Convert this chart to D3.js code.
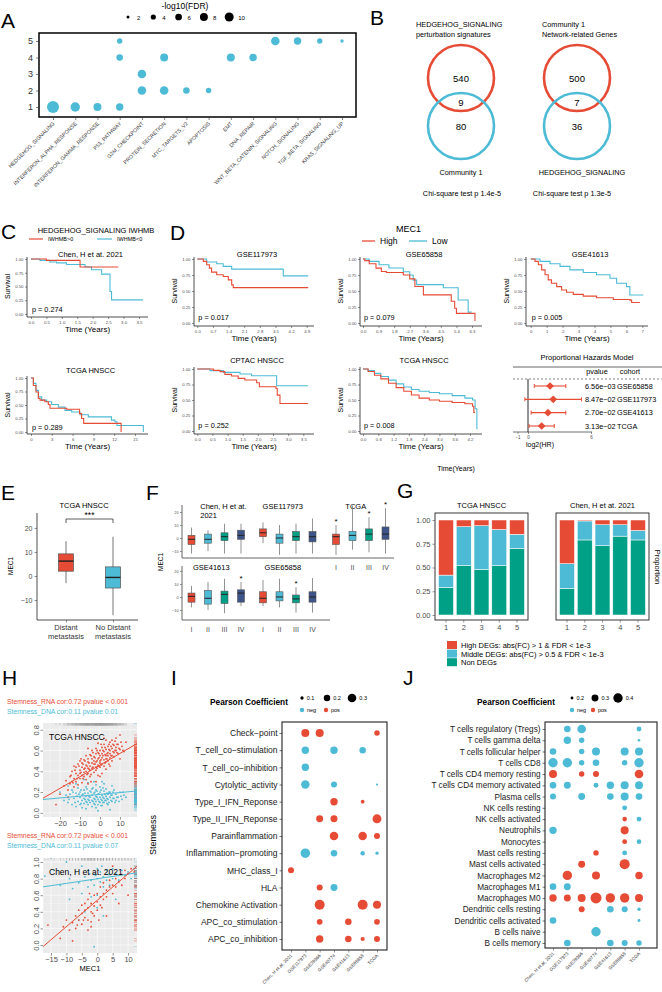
<!DOCTYPE html>
<html>
<head>
<meta charset="utf-8">
<script src="https://cdn.jsdelivr.net/npm/d3@7"></script>
<style>
  body { margin: 0; background: #fff; }
  svg { font-family: "Liberation Sans", Arial, sans-serif; }
</style>
</head>
<body>
<svg id="fig" width="662" height="992"></svg>
<script>
// ---------------- data ----------------
// A: hallmark enrichment per community
const aPathways = ["HEDGEHOG_SIGNALING", "INTERFERON_ALPHA_RESPONSE", "INTERFERON_GAMMA_RESPONSE", "P53_PATHWAY",
  "G2M_CHECKPOINT", "PROTEIN_SECRETION", "MYC_TARGETS_V2", "APOPTOSIS", "EMT", "DNA_REPAIR",
  "WNT_BETA_CATENIN_SIGNALING", "NOTCH_SIGNALING", "TGF_BETA_SIGNALING", "KRAS_SIGNALING_UP"];
const aCommunities = [1, 2, 3, 4, 5];
const aHits = [
  ["HEDGEHOG_SIGNALING", 1, 17], ["INTERFERON_ALPHA_RESPONSE", 1, 10.8], ["INTERFERON_GAMMA_RESPONSE", 1, 8.1],
  ["P53_PATHWAY", 1, 7.1], ["P53_PATHWAY", 4, 5.8], ["P53_PATHWAY", 5, 4.2],
  ["G2M_CHECKPOINT", 2, 9.2], ["G2M_CHECKPOINT", 3, 9.2], ["PROTEIN_SECRETION", 2, 9.2], ["PROTEIN_SECRETION", 4, 8.1],
  ["MYC_TARGETS_V2", 2, 5.8], ["APOPTOSIS", 2, 4.2], ["EMT", 4, 8.1], ["DNA_REPAIR", 4, 7.1],
  ["WNT_BETA_CATENIN_SIGNALING", 5, 9.2], ["NOTCH_SIGNALING", 5, 7.1], ["TGF_BETA_SIGNALING", 5, 4.2], ["KRAS_SIGNALING_UP", 5, 2.3]];
const aSizeBreaks = [2, 4, 6, 8, 10];

// B: venn diagrams
const vennTitles = [["HEDGEHOG_SIGNALING", "perturbation signatures"], ["Community 1", "Network-related Genes"]];
const vennCounts = [[540, 9, 80], [500, 7, 36]];
const vennBottom = ["Community 1", "HEDGEHOG_SIGNALING"];
const vennTests = ["Chi-square test p 1.4e-5", "Chi-square test p 1.3e-5"];

// C / D: Kaplan-Meier curves [time, survival]
const cChenPos = [[0, 1], [0.5, 0.975], [1.59, 0.855], [2.83, 0.855]];
const cChenNeg = [[0, 1], [0.29, 0.975], [0.61, 0.945], [0.83, 0.93], [1.15, 0.9], [1.75, 0.855], [1.96, 0.805], [2.29, 0.725], [2.56, 0.41], [2.61, 0.256], [3.63, 0.256]];
const cTcgaPos = [[0, 1], [0.34, 0.86], [0.72, 0.74], [1.06, 0.62], [1.3, 0.59], [2.0, 0.56], [2.5, 0.51], [2.74, 0.44], [5.15, 0.42], [7.0, 0.34], [7.3, 0.25], [7.6, 0.16], [13.0, 0.16], [13.0, 0]];
const cTcgaNeg = [[0, 1], [0.34, 0.9], [0.72, 0.77], [1.06, 0.65], [1.54, 0.59], [2.26, 0.56], [2.98, 0.51], [3.94, 0.46], [4.9, 0.4], [5.87, 0.37], [7.07, 0.32], [8.27, 0.28], [11.6, 0.22], [12.1, 0.19], [12.4, 0.12], [16.2, 0.12], [16.2, 0]];
const dGse117973High = [[0, 1], [0.27, 0.963], [0.42, 0.91], [0.54, 0.858], [0.64, 0.795], [0.87, 0.753], [1.16, 0.726], [1.39, 0.674], [1.54, 0.595], [1.61, 0.553], [4.97, 0.553]];
const dGse117973Low = [[0, 1], [0.42, 0.953], [0.87, 0.926], [1.16, 0.884], [1.54, 0.842], [3.85, 0.737], [4.97, 0.737]];
const dGse65858High = [[0, 1], [0.1, 0.975], [0.36, 0.926], [0.75, 0.858], [1.06, 0.805], [1.35, 0.79], [2.33, 0.75], [2.7, 0.69], [3.0, 0.57], [3.49, 0.44], [5.1, 0.34], [5.3, 0.23], [5.4, 0.15], [6.47, 0.15], [6.47, 0.03]];
const dGse65858Low = [[0, 1], [0.36, 0.963], [0.93, 0.91], [1.5, 0.86], [2.33, 0.8], [2.7, 0.75], [2.9, 0.67], [3.1, 0.6], [4.64, 0.55], [5.5, 0.36], [6.08, 0.17], [6.28, 0.17]];
const dGse41613High = [[0, 1], [0.27, 0.963], [0.48, 0.91], [0.69, 0.83], [0.9, 0.753], [1.1, 0.674], [1.3, 0.62], [1.63, 0.568], [1.94, 0.516], [2.25, 0.48], [2.67, 0.447], [3.3, 0.42], [4.13, 0.395], [5.18, 0.368], [6.22, 0.358], [6.33, 0.321], [6.85, 0.321]];
const dGse41613Low = [[0, 1], [0.58, 0.963], [1.21, 0.926], [1.84, 0.884], [2.46, 0.83], [3.3, 0.79], [4.13, 0.753], [4.97, 0.7], [5.39, 0.62], [6.01, 0.568], [6.22, 0.437], [7.06, 0.437]];
const dCptacHigh = [[0, 1], [0.53, 0.978], [0.75, 0.957], [0.91, 0.914], [1.13, 0.886], [1.35, 0.849], [1.57, 0.822], [1.96, 0.778], [2.05, 0.714], [2.6, 0.686], [2.64, 0.578], [2.73, 0.443], [3.66, 0.443]];
const dCptacLow = [[0, 1], [0.42, 0.973], [0.86, 0.946], [1.41, 0.919], [1.79, 0.892], [2.62, 0.73], [3.66, 0.73]];
const dTcgaHigh = [[0, 1], [0.2, 0.96], [0.45, 0.9], [0.7, 0.84], [1.0, 0.77], [1.3, 0.7], [1.6, 0.64], [1.9, 0.58], [2.2, 0.53], [2.6, 0.5], [3.0, 0.48], [3.5, 0.46], [4.0, 0.44], [4.3, 0.4], [4.35, 0.3], [4.4, 0.3]];
const dTcgaLow = [[0, 1], [0.2, 0.975], [0.45, 0.93], [0.7, 0.88], [1.0, 0.82], [1.3, 0.76], [1.6, 0.71], [1.9, 0.67], [2.2, 0.64], [2.6, 0.62], [3.0, 0.6], [3.5, 0.57], [4.0, 0.53], [4.3, 0.5], [4.4, 0.36], [4.47, 0.03]];
const ticksChen = [0, 0.5, 1, 1.5, 2, 2.5, 3, 3.5];
const ticksTcgaC = [0, 3, 6, 9, 12, 15];
const ticks117973 = [0, 0.7, 1.4, 2.1, 2.8, 3.5, 4.2, 4.9];
const ticks65858 = [0, 0.9, 1.8, 2.7, 3.6, 4.5, 5.4, 6.3];
const ticks41613 = [0, 1, 2, 3, 4, 5, 6, 7];
const ticksCptac = [0, 0.5, 1, 1.5, 2, 2.5, 3, 3.5];
const ticksTcgaD = [0, 0.6, 1.2, 1.8, 2.4, 3.0, 3.6, 4.2];
const survTicks = [0, 0.25, 0.5, 0.75, 1];

// D: proportional hazards model
const hrCohorts = ["GSE65858", "GSE117973", "GSE41613", "TCGA"];
const hrEst = [2.1, 2.4, 1.9, 1.3];
const hrLow = [0.6, -0.3, 0.3, 0.1];
const hrHigh = [3.6, 5.1, 3.6, 2.5];
const hrP = ["6.56e\u221203", "8.47e\u221202", "2.70e\u221202", "3.13e\u221202"];
const hrTicks = [-1, 0, 6];

// E: MEC1 by metastasis [min, q1, median, q3, max]
const eGroups = ["Distant metastasis", "No Distant metastasis"];
const eStats = [[-3, 2, 6.2, 9.2, 14.5], [-16.3, -5, -0.6, 3.8, 16.3]];
const eTicks = [-10, 0, 10, 20];

// F: MEC1 by stage, per cohort [min, q1, median, q3, max]
const fStages = ["I", "II", "III", "IV"];
const fCohorts = ["Chen, H et at. 2021", "GSE117973", "TCGA", "GSE41613", "GSE65858"];
const fChen = [[-12, -5, -1, 2, 8], [-10, -4, -1, 3, 6], [-12, -2, 1, 4, 11], [-12, -1, 2, 6, 11]];
const fGse117973 = [[-4, 1, 4, 7, 12], [-13, -4, 0, 3, 10], [-12, -2, 1, 5, 11], [-12, -3, 1, 5, 15]];
const fTcga = [[-13, -5, 1, 3, 10], [-9, -2, 2, 5, 25], [-11, -2, 3, 7, 16], [-12, -1, 3, 8.5, 23]];
const fGse41613 = [[-8, -4, 0.5, 3, 8.5], [-10, -5.5, -1, 5, 11.5], [-12.5, -5, 2, 4.5, 14], [-7, -4, 3, 5.5, 11.5]];
const fGse65858 = [[-7, -4.5, -1, 4, 13], [-8, -3, 0, 4, 14], [-12, -4.5, -1.5, 1.5, 7.5], [-12, -4, 0, 4, 14.5]];
const fStars = [["TCGA", 0], ["TCGA", 2], ["TCGA", 3], ["GSE41613", 3], ["GSE65858", 2]];
const fTicks = [-10, 0, 10, 20];

// G: DEG proportions per community
const gClusters = ["1", "2", "3", "4", "5"];
const gTcgaNon = [0.29, 0.52, 0.48, 0.52, 0.70];
const gTcgaMid = [0.13, 0.41, 0.46, 0.38, 0.15];
const gTcgaHigh = [0.58, 0.07, 0.06, 0.10, 0.15];
const gChenNon = [0.28, 0.79, 0.73, 0.83, 0.79];
const gChenMid = [0.26, 0.20, 0.22, 0.12, 0.10];
const gChenHigh = [0.46, 0.01, 0.05, 0.05, 0.11];
const gLegend = ["High DEGs: abs(FC) > 1 & FDR < 1e-3", "Middle DEGs: abs(FC) > 0.5 & FDR < 1e-3", "Non DEGs"];

// H: stemness vs MEC1 [MEC1, stemness]
const hTcgaRna = [[-20,0.18],[-18,0.26],[-17,0.31],[-16,0.22],[-15,0.28],[-15,0.35],[-14,0.3],[-14,0.4],[-13,0.25],[-13,0.33],
  [-12,0.38],[-12,0.44],[-12,0.3],[-11,0.36],[-11,0.47],[-11,0.27],[-10,0.41],[-10,0.33],[-10,0.5],[-10,0.38],
  [-9,0.44],[-9,0.36],[-9,0.29],[-9,0.48],[-8,0.42],[-8,0.51],[-8,0.35],[-8,0.39],[-7,0.46],[-7,0.4],[-7,0.55],[-7,0.32],
  [-6,0.43],[-6,0.49],[-6,0.38],[-6,0.52],[-5,0.45],[-5,0.41],[-5,0.56],[-5,0.35],[-4,0.48],[-4,0.52],[-4,0.43],[-4,0.6],
  [-3,0.47],[-3,0.39],[-3,0.54],[-3,0.5],[-2,0.44],[-2,0.57],[-2,0.49],[-2,0.62],[-2,0.41],[-1,0.52],[-1,0.46],[-1,0.58],[-1,0.36],
  [0,0.5],[0,0.55],[0,0.44],[0,0.6],[0,0.48],[1,0.53],[1,0.47],[1,0.63],[1,0.57],[2,0.51],[2,0.59],[2,0.45],[2,0.66],
  [3,0.55],[3,0.61],[3,0.49],[3,0.52],[4,0.58],[4,0.5],[4,0.64],[4,0.55],[5,0.6],[5,0.53],[5,0.68],[5,0.57],
  [6,0.62],[6,0.55],[6,0.5],[6,0.7],[7,0.58],[7,0.65],[7,0.54],[8,0.63],[8,0.6],[8,0.72],[9,0.57],[9,0.66],[10,0.61],[10,0.52],
  [11,0.64],[12,0.59],[13,0.68],[-22,0.08],[-16,0.15],[-13,0.45],[-6,0.62],[3,0.7],[10,0.75],[-2,0.3],[1,0.38],
  [-8.5,0.47],[-4.5,0.37],[-0.5,0.53],[2.5,0.56],[5.5,0.64],[7.5,0.6],[-6.5,0.45],[-1.5,0.43],[0.5,0.66],[4.5,0.47],
  [-14.5,0.36],[-13.5,0.29],[-12.5,0.41],[-11.5,0.33],[-10.5,0.45],[-9.5,0.39],[-8.5,0.33],[-7.5,0.43],[-7.5,0.5],[-6.5,0.37],
  [-5.5,0.48],[-5.5,0.42],[-4.5,0.55],[-3.5,0.44],[-3.5,0.58],[-2.5,0.47],[-2.5,0.53],[-1.5,0.5],[-1.5,0.6],[-0.5,0.45],
  [-0.5,0.57],[0.5,0.51],[0.5,0.46],[1.5,0.55],[1.5,0.6],[2.5,0.48],[2.5,0.63],[3.5,0.57],[3.5,0.52],[4.5,0.61],[4.5,0.66],
  [5.5,0.55],[6.5,0.59],[6.5,0.66],[7.5,0.69],[8.5,0.58],[8.5,0.66],[9.5,0.62],[10.5,0.68],[11.5,0.6],[-9.5,0.52],[-4.5,0.3],
  [0,0.35],[3,0.42],[-6,0.28],[2,0.72],[-1,0.67],[5,0.45]];
const hTcgaDna = [[-18,0.12],[-16,0.1],[-15,0.18],[-14,0.08],[-14,0.22],[-13,0.14],[-12,0.06],[-12,0.19],[-11,0.11],[-11,0.24],
  [-10,0.15],[-10,0.08],[-10,0.2],[-9,0.12],[-9,0.17],[-9,0.05],[-8,0.14],[-8,0.22],[-8,0.09],[-7,0.16],[-7,0.11],[-7,0.25],[-7,0.04],
  [-6,0.13],[-6,0.19],[-6,0.08],[-5,0.15],[-5,0.21],[-5,0.1],[-4,0.12],[-4,0.17],[-4,0.06],[-4,0.23],[-3,0.14],[-3,0.19],[-3,0.09],
  [-2,0.16],[-2,0.11],[-2,0.22],[-2,0.05],[-1,0.13],[-1,0.18],[-1,0.08],[0,0.15],[0,0.2],[0,0.1],[0,0.25],[1,0.12],[1,0.17],[1,0.07],
  [2,0.14],[2,0.21],[2,0.1],[3,0.16],[3,0.12],[3,0.23],[4,0.13],[4,0.18],[4,0.08],[5,0.15],[5,0.2],[6,0.11],[6,0.17],[7,0.14],[7,0.22],
  [8,0.12],[8,0.18],[9,0.15],[10,0.2],[11,0.13],[12,0.17],[-20,0.2],[-16,0.26],[-3,0.3],[2,0.28],[6,0.26],[-8,0.32],[0,0.86],
  [-1,0.02],[5,0.03],[-12,0.28],[-8.5,0.18],[-5.5,0.12],[-2.5,0.2],[0.5,0.13],[3.5,0.19],[6.5,0.14],[-11.5,0.16],[1.5,0.24],[4.5,0.1],
  [-17,0.17],[-15.5,0.13],[-13.5,0.2],[-12.5,0.1],[-10.5,0.18],[-9.5,0.09],[-9.5,0.22],[-7.5,0.13],[-7.5,0.19],[-6.5,0.1],
  [-6.5,0.23],[-5.5,0.16],[-4.5,0.2],[-3.5,0.11],[-3.5,0.24],[-2.5,0.13],[-2.5,0.08],[-1.5,0.15],[-1.5,0.21],[-0.5,0.11],
  [-0.5,0.18],[0.5,0.22],[0.5,0.07],[1.5,0.15],[1.5,0.1],[2.5,0.18],[2.5,0.12],[3.5,0.14],[3.5,0.09],[4.5,0.2],[5.5,0.12],
  [5.5,0.17],[6.5,0.2],[7.5,0.1],[8.5,0.15],[9.5,0.11],[10.5,0.16],[11.5,0.2],[13,0.15],[-2,0.27],[1,0.3],[-6,0.29]];
const hChenRna = [[-16,0.24],[-12,0.08],[-11,0.22],[-10,0.3],[-9,0.18],[-8,0.27],[-7,0.35],[-7,0.2],[-6,0.42],[-6,0.3],
  [-5,0.38],[-5,0.48],[-5,0.25],[-4,0.5],[-4,0.33],[-4,0.42],[-3,0.45],[-3,0.3],[-3,0.55],[-2,0.4],[-2,0.5],[-2,0.28],
  [-1,0.47],[-1,0.6],[-1,0.35],[0,0.52],[0,0.62],[0,0.42],[1,0.58],[1,0.48],[1,0.7],[2,0.62],[2,0.55],[2,0.75],[3,0.66],[3,0.58],
  [4,0.7],[4,0.78],[5,0.72],[5,0.62],[6,0.8],[6,0.7],[7,0.76],[8,0.85],[8,0.72],[9,0.8],[9,0.9],[10,0.86],[11,0.92],[12,0.88],
  [-2,0.22],[3,0.35],[7,0.5],[-8,0.05],[10,0.6],[5,0.95],[-3,0.18],[-6.5,0.24],[-4.5,0.3],[-1.5,0.38],[0.5,0.3],[1.5,0.45],[-2.5,0.62]];
const hChenDna = [[-17,0.83],[-14,0.9],[-12,0.72],[-10,1.0],[-9,0.8],[-8,0.68],[-7,0.88],[-6,0.75],[-5,0.95],[-5,0.62],[-4,0.82],
  [-3,0.7],[-3,0.9],[-2,0.78],[-2,0.58],[-1,0.85],[-1,0.72],[0,0.8],[0,0.92],[0,0.6],[1,0.76],[1,0.88],[2,0.82],[2,0.7],[3,0.9],[3,0.78],
  [4,0.85],[4,0.72],[5,0.8],[5,0.92],[6,0.86],[7,0.78],[8,0.9],[9,0.84],[10,0.88],[11,0.8],[-4,0.4],[-6,0.3],[0,0.45],[2,0.35],
  [-1,-0.02],[-9,0.55],[6,0.55],[-15,1.05],[12,0.92],[-0.5,0.84],[1.5,0.95],[3.5,0.85],[-2.5,0.86]];
const hFitTcga = [[0.46, 0.0112], [0.178, 0.00174]];   // [intercept, slope] RNA, DNA
const hFitChen = [[0.539, 0.0317], [0.798, 0.00556]];
const hStatsTcga = ["Stemness_RNA cor:0.72 pvalue < 0.001", "Stemness_DNA cor:0.11 pvalue 0.01"];
const hStatsChen = ["Stemness_RNA cor:0.72 pvalue < 0.001", "Stemness_DNA cor:0.11 pvalue 0.07"];

// I / J: Pearson coefficients [row, column, r]
const ijCohorts = ["Chen, H et at. 2021", "GSE117973", "GSE39366", "GSE40774", "GSE41613", "GSE65858", "TCGA"];
const iRows = ["Check\u2212point", "T_cell_co\u2212stimulation", "T_cell_co\u2212inhibition", "Cytolytic_activity", "Type_I_IFN_Reponse",
  "Type_II_IFN_Reponse", "Parainflammation", "Inflammation\u2212promoting", "MHC_class_I", "HLA", "Chemokine Activation",
  "APC_co_stimulation", "APC_co_inhibition"];
const iCors = [[0,1,0.27],[0,2,0.27],[0,6,0.16],[1,1,-0.24],[1,3,-0.24],[1,5,-0.2],[2,1,-0.24],[3,1,-0.29],[3,3,-0.18],[3,6,-0.08],
  [4,3,0.24],[4,5,0.11],[5,2,0.22],[5,3,0.22],[5,6,0.32],[6,3,0.3],[6,5,0.3],[6,6,0.18],[7,1,-0.35],[7,3,-0.2],[7,5,-0.13],[7,6,-0.1],
  [8,0,0.18],[9,2,0.18],[9,3,-0.22],[10,2,0.38],[10,5,0.38],[10,6,0.27],[11,2,0.17],[11,4,0.2],[11,6,0.17],
  [12,2,0.24],[12,4,0.2],[12,5,0.12],[12,6,0.18]];
const iSizeBreaks = [0.1, 0.2, 0.3];
const jRows = ["T cells regulatory (Tregs)", "T cells gamma delta", "T cells follicular helper", "T cells CD8", "T cells CD4 memory resting",
  "T cells CD4 memory activated", "Plasma cells", "NK cells resting", "NK cells activated", "Neutrophils", "Monocytes",
  "Mast cells resting", "Mast cells activated", "Macrophages M2", "Macrophages M1", "Macrophages M0", "Dendritic cells resting",
  "Dendritic cells activated", "B cells naive", "B cells memory"];
const jCors = [[0,1,-0.29],[0,2,-0.365],[0,6,-0.24],[1,1,-0.317],[1,2,-0.253],[1,6,-0.197],
  [2,0,-0.29],[2,2,-0.253],[2,3,-0.34],[2,5,-0.34],[2,6,-0.34],
  [3,0,-0.4],[3,1,-0.4],[3,2,-0.253],[3,3,-0.29],[3,5,-0.253],[3,6,-0.4],
  [4,0,0.34],[4,2,0.253],[4,3,0.27],[4,6,0.365],
  [5,0,-0.29],[5,1,-0.3],[5,3,-0.24],[5,4,-0.317],[5,5,-0.34],[5,6,-0.34],
  [6,0,-0.27],[6,2,-0.3],[6,4,-0.29],[6,5,-0.34],[6,6,-0.29],
  [7,5,-0.24],[8,5,0.233],[8,6,-0.24],[9,0,-0.317],[9,5,0.34],[10,5,0.24],[10,6,-0.233],
  [11,3,0.253],[11,5,-0.24],[12,2,0.3],[12,5,0.43],[13,1,0.4],[13,3,0.34],[13,6,0.317],[14,0,-0.29],[14,1,-0.3],
  [15,0,0.317],[15,1,0.3],[15,2,0.34],[15,3,0.48],[15,4,0.4],[15,5,0.4],[15,6,0.34],
  [16,2,0.27],[16,4,-0.29],[16,5,-0.27],[16,6,-0.209],[17,0,-0.29],[17,6,-0.2],[18,3,-0.4],
  [19,1,-0.29],[19,4,-0.29],[19,5,-0.27],[19,6,-0.253]];
const jSizeBreaks = [0.2, 0.3, 0.4];

// ---------------- drawing ----------------
const RED = "#E64B35", BLUE = "#4DBBD5", GREEN = "#00A087", NAVY = "#3C5488";
const FONT = "'Liberation Sans', Arial, sans-serif";
const svg = d3.select("#fig");
svg.append("rect").attr("width", 662).attr("height", 992).attr("fill", "#fff");

function label(g, x, y, s, size, o = {}) {
  const t = g.append("text").attr("x", x).attr("y", y).attr("font-size", size).text(s);
  if (o.anchor) t.attr("text-anchor", o.anchor);
  t.attr("fill", o.fill || "#000");
  if (o.weight) t.attr("font-weight", o.weight);
  if (o.rotate != null) t.attr("transform", `rotate(${o.rotate},${x},${y})`);
  return t;
}
function styleAxis(sel, size, color = "#4d4d4d") {
  sel.attr("font-family", FONT).attr("font-size", size);
  sel.selectAll("text").attr("fill", color);
  sel.selectAll("line").attr("stroke", color).attr("stroke-width", 0.6);
  sel.select(".domain").remove();
}

// panel letters
[["A", 1, 28], ["B", 370, 25], ["C", 1, 239], ["D", 170, 240], ["E", 1, 500], ["F", 146, 500],
 ["G", 397, 498], ["H", 2, 685], ["I", 171, 685], ["J", 403, 685]]
  .forEach(([s, x, y]) => label(svg, x, y, s, 21));

// ---------- A ----------
{
  const g = svg.append("g");
  const x = d3.scalePoint().domain(aPathways).range([53, 342]);
  const y = d3.scaleLinear().domain([1, 5]).range([107, 41]);
  const r = d3.scaleRadial().domain([1, 10]).range([0, 4.5]);
  g.append("rect").attr("x", 39).attr("y", 33).attr("width", 317).attr("height", 84)
    .attr("fill", "none").attr("stroke", "#000").attr("stroke-width", 1.5);
  const ay = g.append("g").attr("transform", "translate(39,0)")
    .call(d3.axisLeft(y).tickValues(aCommunities).tickSize(3).tickPadding(3).tickFormat(d3.format("d")));
  styleAxis(ay, 9, "#333");
  const ax = g.append("g").attr("transform", "translate(0,117)").call(d3.axisBottom(x).tickSize(3).tickFormat(""));
  styleAxis(ax, 5, "#333");
  aPathways.forEach(p => label(g, x(p) + 2, 124, p, 5.3, { anchor: "end", rotate: -45, fill: "#333" }));
  g.selectAll("circle.hit").data(aHits).join("circle").attr("class", "hit")
    .attr("cx", d => x(d[0])).attr("cy", d => y(d[1])).attr("r", d => r(d[2])).attr("fill", BLUE);
  label(g, 185, 9, "-log10(FDR)", 8.5, { anchor: "middle" });
  aSizeBreaks.forEach((b, i) => {
    const cx = 128 + i * 25.3;
    g.append("circle").attr("cx", cx).attr("cy", 17).attr("r", r(b)).attr("fill", "#000");
    label(g, cx + 9, 19.5, b, 6);
  });
}

// ---------- B ----------
{
  const g = svg.append("g");
  vennCounts.forEach((c, i) => {
    const cx = [461, 577][i];
    const tx = [416, 542][i];
    vennTitles[i].forEach((t, k) => label(g, tx, 27 + k * 9.5, t, 7.3));
    g.append("circle").attr("cx", cx).attr("cy", 78).attr("r", 33).attr("fill", "none").attr("stroke", RED).attr("stroke-width", 2.6);
    g.append("circle").attr("cx", cx).attr("cy", 126).attr("r", 33).attr("fill", "none").attr("stroke", BLUE).attr("stroke-width", 2.6);
    [78, 102, 126].forEach((yy, k) => label(g, cx, yy + 3.5, c[k], 9.5, { anchor: "middle" }));
    label(g, cx + [0, 5][i], 175, vennBottom[i], 7.3, { anchor: "middle" });
    label(g, cx + [1, -5][i], 196, vennTests[i], 7.3, { anchor: "middle" });
  });
}

// ---------- survival helper ----------
function survival(cfg, hi, lo) {
  const g = svg.append("g");
  const x = d3.scaleLinear().domain([0, cfg.ticks[cfg.ticks.length - 1]]).range([cfg.xs0, cfg.xs1]);
  const y = d3.scaleLinear().domain([0, 1]).range([cfg.yb, cfg.yt]);
  const ayG = g.append("g").attr("transform", `translate(${cfg.ax},0)`)
    .call(d3.axisLeft(y).tickValues(survTicks).tickFormat(d3.format(".2f")).tickSize(2).tickPadding(1.5));
  styleAxis(ayG, 4.3);
  const axG = g.append("g").attr("transform", `translate(0,${cfg.ay})`)
    .call(d3.axisBottom(x).tickValues(cfg.ticks).tickFormat(cfg.fmt).tickSize(2).tickPadding(1.5));
  styleAxis(axG, 4.3);
  g.append("path").attr("d", `M${cfg.ax},${cfg.yt - 2}V${cfg.ay}H${cfg.ax1}`)
    .attr("fill", "none").attr("stroke", "#222").attr("stroke-width", 0.8);
  const line = d3.line().x(d => x(d[0])).y(d => y(d[1])).curve(d3.curveStepAfter);
  [[lo, BLUE], [hi, RED]].forEach(([d, c]) =>
    g.append("path").attr("d", line(d)).attr("fill", "none").attr("stroke", c).attr("stroke-width", 1.1));
  const mid = (cfg.ax + cfg.ax1) / 2;
  label(g, mid + 3, cfg.titleY, cfg.title, 7.5, { anchor: "middle" });
  label(g, cfg.xs0 + 1, y(0.09) + 2.5, cfg.p, 7.3);
  label(g, mid, cfg.ay + 15, "Time (Years)", 8, { anchor: "middle" });
  label(g, cfg.ax - 17, (cfg.yt + cfg.yb) / 2, "Survival", 7, { anchor: "middle", rotate: -90 });
}
const f1 = d3.format(".1f"), f0 = d3.format("d");

// ---------- C ----------
label(svg, 96, 233, "HEDGEHOG_SIGNALING IWHMB", 7.5, { anchor: "middle" });
svg.append("line").attr("x1", 29).attr("x2", 43).attr("y1", 239).attr("y2", 239).attr("stroke", RED).attr("stroke-width", 1.2);
label(svg, 48, 241, "IWHMB>0", 5.5);
svg.append("line").attr("x1", 97).attr("x2", 112).attr("y1", 239).attr("y2", 239).attr("stroke", BLUE).attr("stroke-width", 1.2);
label(svg, 117, 241, "IWHMB<0", 5.5);
survival({ ax: 27, ax1: 148, xs0: 31, xs1: 139, yt: 259, yb: 314, ay: 317, ticks: ticksChen, fmt: f1,
  title: "Chen, H et at. 2021", titleY: 256.5, p: "p = 0.274" }, cChenPos, cChenNeg);
survival({ ax: 27, ax1: 148, xs0: 31, xs1: 135, yt: 378, yb: 432, ay: 434, ticks: ticksTcgaC, fmt: f0,
  title: "TCGA HNSCC", titleY: 373, p: "p = 0.289" }, cTcgaPos, cTcgaNeg);

// ---------- D ----------
label(svg, 408.5, 232, "MEC1", 9, { anchor: "middle" });
svg.append("line").attr("x1", 362).attr("x2", 375).attr("y1", 241).attr("y2", 241).attr("stroke", RED).attr("stroke-width", 1.3);
label(svg, 380, 244, "High", 8.5);
svg.append("line").attr("x1", 409).attr("x2", 427).attr("y1", 241).attr("y2", 241).attr("stroke", BLUE).attr("stroke-width", 1.3);
label(svg, 432, 244, "Low", 8.5);
survival({ ax: 194, ax1: 314, xs0: 197.3, xs1: 306.7, yt: 259, yb: 323, ay: 326, ticks: ticks117973, fmt: f1,
  title: "GSE117973", titleY: 256.5, p: "p = 0.017" }, dGse117973High, dGse117973Low);
survival({ ax: 360, ax1: 482, xs0: 363, xs1: 472, yt: 259, yb: 323, ay: 326, ticks: ticks65858, fmt: f1,
  title: "GSE65858", titleY: 256.5, p: "p = 0.079" }, dGse65858High, dGse65858Low);
survival({ ax: 526, ax1: 648, xs0: 530.7, xs1: 642.3, yt: 259, yb: 323, ay: 326, ticks: ticks41613, fmt: f0,
  title: "GSE41613", titleY: 256.5, p: "p = 0.005" }, dGse41613High, dGse41613Low);
survival({ ax: 194, ax1: 314, xs0: 197.3, xs1: 303.3, yt: 369, yb: 431, ay: 434, ticks: ticksCptac, fmt: f1,
  title: "CPTAC HNSCC", titleY: 363, p: "p = 0.252" }, dCptacHigh, dCptacLow);
survival({ ax: 360, ax1: 482, xs0: 363, xs1: 470, yt: 369, yb: 431, ay: 434, ticks: ticksTcgaD, fmt: f1,
  title: "TCGA HNSCC", titleY: 363, p: "p = 0.008" }, dTcgaHigh, dTcgaLow);

// forest plot
{
  const g = svg.append("g");
  const x = d3.scaleLinear().domain([-1, 6]).range([517.5, 591]);
  const y = d3.scalePoint().domain(hrCohorts).range([386, 426]);
  label(g, 587, 359.5, "Proportional Hazards Model", 7.5, { anchor: "middle" });
  g.append("line").attr("x1", 513).attr("x2", 662).attr("y1", 367).attr("y2", 367).attr("stroke", "#555").attr("stroke-width", 0.9);
  label(g, 597, 374, "pvalue", 7.3, { anchor: "middle" });
  label(g, 630, 374, "cohort", 7.3, { anchor: "middle" });
  g.append("line").attr("x1", 513).attr("x2", 662).attr("y1", 379).attr("y2", 379).attr("stroke", "#555")
    .attr("stroke-width", 0.7).attr("stroke-dasharray", "2,2");
  g.append("line").attr("x1", x(0)).attr("x2", x(0)).attr("y1", 379).attr("y2", 432).attr("stroke", "#888").attr("stroke-width", 1.8);
  const axG = g.append("g").attr("transform", "translate(0,432)")
    .call(d3.axisBottom(x).tickValues(hrTicks).tickSize(2).tickPadding(1.5).tickFormat(d3.format("d")));
  styleAxis(axG, 4.5);
  g.append("line").attr("x1", 513).attr("x2", 592).attr("y1", 432).attr("y2", 432).attr("stroke", "#333").attr("stroke-width", 0.7);
  label(g, 540, 447, "log2(HR)", 7, { anchor: "middle" });
  hrCohorts.forEach((c, i) => {
    const yy = y(c);
    g.append("line").attr("x1", x(hrLow[i])).attr("x2", x(hrHigh[i])).attr("y1", yy).attr("y2", yy).attr("stroke", RED).attr("stroke-width", 1.1);
    [hrLow[i], hrHigh[i]].forEach(v => g.append("line").attr("x1", x(v)).attr("x2", x(v)).attr("y1", yy - 2).attr("y2", yy + 2).attr("stroke", RED).attr("stroke-width", 1));
    g.append("path").attr("d", d3.symbol(d3.symbolSquare, 30)()).attr("transform", `translate(${x(hrEst[i])},${yy}) rotate(45)`).attr("fill", RED);
    label(g, 585, yy + 2.6, hrP[i], 7.3);
    label(g, 617, yy + 2.6, c, 7.3);
  });
  label(svg, 456, 471, "Time(Years)", 7, { anchor: "middle" });
}

// ---------- E ----------
{
  const g = svg.append("g");
  const y = d3.scaleLinear().domain([-18.3, 26.2]).range([620, 513]);
  const x = d3.scalePoint().domain(eGroups).range([66, 113]);
  label(g, 84, 508, "TCGA HNSCC", 7.5, { anchor: "middle" });
  const ayG = g.append("g").attr("transform", "translate(37,0)").call(d3.axisLeft(y).tickValues(eTicks).tickSize(2.5).tickPadding(2));
  styleAxis(ayG, 7, "#4d4d4d");
  const axG = g.append("g").attr("transform", "translate(0,620)").call(d3.axisBottom(x).tickSize(2.5).tickFormat(""));
  styleAxis(axG, 7);
  g.append("path").attr("d", "M37,513V620H138").attr("fill", "none").attr("stroke", "#222").attr("stroke-width", 0.8);
  eGroups.forEach((grp, i) => {
    const s = eStats[i], cx = x(grp), w = 15;
    g.append("line").attr("x1", cx).attr("x2", cx).attr("y1", y(s[0])).attr("y2", y(s[4])).attr("stroke", "#666").attr("stroke-width", 0.9);
    g.append("rect").attr("x", cx - w / 2).attr("y", y(s[3])).attr("width", w).attr("height", y(s[1]) - y(s[3]))
      .attr("fill", i ? BLUE : RED).attr("stroke", "#555").attr("stroke-width", 0.7);
    g.append("line").attr("x1", cx - w / 2).attr("x2", cx + w / 2).attr("y1", y(s[2])).attr("y2", y(s[2])).attr("stroke", "#222").attr("stroke-width", 1.4);
    const words = grp.split(" ");
    const lines = words.length > 2 ? [words.slice(0, 2).join(" "), words[2]] : words;
    lines.forEach((t, k) => label(g, cx, 630 + k * 9, t, 7.5, { anchor: "middle", fill: "#333" }));
  });
  g.append("path").attr("d", `M${x(eGroups[0])},523V519H${x(eGroups[1])}V523`).attr("fill", "none").attr("stroke", "#333").attr("stroke-width", 0.8);
  label(g, 89.5, 517.5, "***", 8.5, { anchor: "middle" });
  label(g, 13, 566, "MEC1", 6.5, { anchor: "middle", rotate: -90 });
}

// ---------- F ----------
{
  const g = svg.append("g");
  const stageColor = d3.scaleOrdinal().domain(fStages).range([RED, BLUE, GREEN, NAVY]);
  const rows = [
    { y: d3.scaleLinear().domain([-15.4, 25.4]).range([558, 505]), top: 505, bot: 558, right: 394 },
    { y: d3.scaleLinear().domain([-17.7, 23.8]).range([620, 566]), top: 566, bot: 620, right: 330 }];
  const facets = [
    { name: fCohorts[0], stats: fChen, row: 0, x0: 183.25, ty: 509, tx2: "2021" },
    { name: fCohorts[1], stats: fGse117973, row: 0, x0: 254.75, ty: 509 },
    { name: fCohorts[2], stats: fTcga, row: 0, x0: 327.75, ty: 509, roman: true },
    { name: fCohorts[3], stats: fGse41613, row: 1, x0: 183.25, ty: 570, roman: true },
    { name: fCohorts[4], stats: fGse65858, row: 1, x0: 254.75, ty: 570, roman: true }];
  rows.forEach(r => {
    const ayG = g.append("g").attr("transform", "translate(182,0)").call(d3.axisLeft(r.y).tickValues(fTicks).tickSize(2).tickPadding(1.5));
    styleAxis(ayG, 3.8);
    g.append("path").attr("d", `M182,${r.top}V${r.bot}H${r.right}`).attr("fill", "none").attr("stroke", "#555").attr("stroke-width", 0.9);
  });
  facets.forEach(f => {
    const r = rows[f.row];
    const x = d3.scalePoint().domain(fStages).range([f.x0 + 8.25, f.x0 + 57.75]);
    if (f.tx2) {
      label(g, f.x0 + 17, f.ty, "Chen, H et at.", 7.5);
      label(g, f.x0 + 17, f.ty + 9, f.tx2, 7.5);
    } else {
      label(g, f.x0 + 28, f.ty, f.name, 7.5, { anchor: "middle" });
    }
    f.stats.forEach((s, i) => {
      const cx = x(fStages[i]), w = 7;
      g.append("line").attr("x1", cx).attr("x2", cx).attr("y1", r.y(s[0])).attr("y2", r.y(s[4])).attr("stroke", "#777").attr("stroke-width", 0.8);
      g.append("rect").attr("x", cx - w / 2).attr("y", r.y(s[3])).attr("width", w).attr("height", r.y(s[1]) - r.y(s[3]))
        .attr("fill", stageColor(fStages[i])).attr("stroke", "#555").attr("stroke-width", 0.6);
      g.append("line").attr("x1", cx - w / 2).attr("x2", cx + w / 2).attr("y1", r.y(s[2])).attr("y2", r.y(s[2])).attr("stroke", "#222").attr("stroke-width", 1);
    });
    fStars.filter(st => st[0] === f.name).forEach(st => {
      const s = f.stats[st[1]];
      label(g, x(fStages[st[1]]), r.y(s[4]) - 1, "*", 8, { anchor: "middle" });
    });
    if (f.roman) {
      fStages.forEach(st => label(g, x(st), r.bot + 12, st, 7, { anchor: "middle", fill: "#4d4d4d" }));
    }
  });
  label(g, 163, 562, "MEC1", 6.5, { anchor: "middle", rotate: -90 });
}

// ---------- G ----------
{
  const g = svg.append("g");
  const y = d3.scaleLinear().domain([0, 1]).range([615, 520]);
  const cats = ["non", "mid", "high"];
  const colors = { non: GREEN, mid: BLUE, high: RED };
  const panels = [
    { title: "TCGA HNSCC", x0: 435, x1: 528, non: gTcgaNon, mid: gTcgaMid, high: gTcgaHigh },
    { title: "Chen, H et at. 2021", x0: 556, x1: 649, non: gChenNon, mid: gChenMid, high: gChenHigh }];
  panels.forEach((p, pi) => {
    const x = d3.scaleBand().domain(gClusters).range([p.x0, p.x1]).paddingInner(0.16).paddingOuter(0.2);
    const rows = gClusters.map((c, i) => ({ c, non: p.non[i], mid: p.mid[i], high: p.high[i] }));
    const series = d3.stack().keys(cats)(rows);
    series.forEach(s => {
      g.selectAll(null).data(s).join("rect")
        .attr("x", d => x(d.data.c)).attr("width", x.bandwidth())
        .attr("y", d => y(d[1])).attr("height", d => y(d[0]) - y(d[1]))
        .attr("fill", colors[s.key]).attr("stroke", "#fff").attr("stroke-width", 0.5);
    });
    g.append("rect").attr("x", p.x0).attr("y", 513).attr("width", p.x1 - p.x0).attr("height", 107)
      .attr("fill", "none").attr("stroke", "#222").attr("stroke-width", 0.9);
    const axG = g.append("g").attr("transform", "translate(0,620)").call(d3.axisBottom(x).tickSize(2.5).tickPadding(2));
    styleAxis(axG, 7.5);
    label(g, (p.x0 + p.x1) / 2, 508, p.title, 7.5, { anchor: "middle" });
    if (pi === 0) {
      const ayG = g.append("g").attr("transform", `translate(${p.x0},0)`)
        .call(d3.axisLeft(y).tickValues([0, 0.25, 0.5, 0.75, 1]).tickFormat(d3.format(".2f")).tickSize(2.5).tickPadding(2));
      styleAxis(ayG, 7.5);
    }
  });
  label(g, 655, 567, "Proportion", 7.5, { anchor: "middle", rotate: 90 });
  [RED, BLUE, GREEN].forEach((c, i) => {
    g.append("rect").attr("x", 447).attr("y", 641 + i * 8.6).attr("width", 10).attr("height", 8).attr("fill", c);
    label(g, 461, 648 + i * 8.6, gLegend[i], 7.5);
  });
}

// ---------- H ----------
function scatterPanel(cfg, rna, dna, fits) {
  const g = svg.append("g");
  const x = d3.scaleLinear().domain(cfg.xd).range([43, 137]);
  const y = d3.scaleLinear().domain(cfg.yd).range([cfg.y1, cfg.y0]);
  g.append("rect").attr("x", 43).attr("y", cfg.y0).attr("width", 94).attr("height", cfg.y1 - cfg.y0).attr("fill", "#EBEBEB");
  const xt = cfg.xt, yt = cfg.yt;
  const xm = xt.slice(1).map((v, i) => (v + xt[i]) / 2).concat([xt[0] - (xt[1] - xt[0]) / 2, xt[xt.length - 1] + (xt[1] - xt[0]) / 2]);
  const ym = yt.slice(1).map((v, i) => (v + yt[i]) / 2).concat([yt[yt.length - 1] + (yt[1] - yt[0]) / 2]);
  xm.filter(v => v > cfg.xd[0] && v < cfg.xd[1]).forEach(v => g.append("line").attr("x1", x(v)).attr("x2", x(v)).attr("y1", cfg.y0).attr("y2", cfg.y1).attr("stroke", "#fff").attr("stroke-width", 0.3));
  ym.filter(v => v > cfg.yd[0] && v < cfg.yd[1]).forEach(v => g.append("line").attr("x1", 43).attr("x2", 137).attr("y1", y(v)).attr("y2", y(v)).attr("stroke", "#fff").attr("stroke-width", 0.3));
  xt.forEach(v => g.append("line").attr("x1", x(v)).attr("x2", x(v)).attr("y1", cfg.y0).attr("y2", cfg.y1).attr("stroke", "#fff").attr("stroke-width", 0.6));
  yt.forEach(v => g.append("line").attr("x1", 43).attr("x2", 137).attr("y1", y(v)).attr("y2", y(v)).attr("stroke", "#fff").attr("stroke-width", 0.6));
  const clipId = "clip" + cfg.id;
  g.append("clipPath").attr("id", clipId).append("rect").attr("x", 43).attr("y", cfg.y0).attr("width", 94).attr("height", cfg.y1 - cfg.y0);
  const inner = g.append("g").attr("clip-path", `url(#${clipId})`);
  [[dna, BLUE], [rna, RED]].forEach(([pts, c]) => {
    inner.selectAll(null).data(pts).join("circle").attr("cx", d => x(d[0])).attr("cy", d => y(d[1])).attr("r", 0.9).attr("fill", c);
    inner.selectAll(null).data(pts).join("line").attr("x1", 134).attr("x2", 137).attr("y1", d => y(d[1])).attr("y2", d => y(d[1]))
      .attr("stroke", c).attr("stroke-width", 0.5).attr("opacity", 0.8);
    inner.selectAll(null).data(pts).join("line").attr("y1", cfg.y0).attr("y2", cfg.y0 + 2.5).attr("x1", d => x(d[0])).attr("x2", d => x(d[0]))
      .attr("stroke", "#999").attr("stroke-width", 0.4).attr("opacity", 0.7);
  });
  [[fits[1], BLUE], [fits[0], RED]].forEach(([f, c]) => {
    inner.append("line").attr("x1", x(cfg.xd[0])).attr("x2", x(cfg.xd[1]))
      .attr("y1", y(f[0] + f[1] * cfg.xd[0])).attr("y2", y(f[0] + f[1] * cfg.xd[1])).attr("stroke", c).attr("stroke-width", 1);
  });
  const axG = g.append("g").attr("transform", `translate(0,${cfg.y1})`).call(d3.axisBottom(x).tickValues(xt).tickSize(2.5).tickPadding(1.5));
  styleAxis(axG, 7.5, "#4d4d4d");
  const ayG = g.append("g").attr("transform", "translate(43,0)").call(d3.axisLeft(y).tickValues(yt).tickSize(2.5).tickFormat(d3.format(".1f")));
  styleAxis(ayG, 7.5, "#4d4d4d");
  ayG.selectAll("text").attr("x", 0).attr("y", -4.5).attr("dy", 0).attr("text-anchor", "middle").attr("transform", "rotate(-90)");
  label(g, 49, cfg.y0 + 17, cfg.title, 8.5);
  cfg.stats.forEach((s, k) => label(svg, 7, cfg.statY + k * 10, s, 6.8, { fill: k ? BLUE : RED }));
}
scatterPanel({ id: "t", xd: [-28.5, 18.5], yd: [-0.04, 0.865], y0: 723, y1: 817, xt: [-20, -10, 0, 10], yt: [0, 0.2, 0.4, 0.6, 0.8],
  title: "TCGA HNSCC", stats: hStatsTcga, statY: 704 }, hTcgaRna, hTcgaDna, hFitTcga);
scatterPanel({ id: "c", xd: [-17.6, 12.9], yd: [-0.096, 1.048], y0: 858, y1: 953, xt: [-15, -10, -5, 0, 5, 10], yt: [0, 0.2, 0.4, 0.6, 0.8, 1.0],
  title: "Chen, H et at. 2021", stats: hStatsChen, statY: 838 }, hChenRna, hChenDna, hFitChen);
label(svg, 90, 971, "MEC1", 7.5, { anchor: "middle" });
label(svg, 156, 835, "Stemness", 9, { anchor: "middle", rotate: -90 });

// ---------- I / J ----------
function dotMatrix(cfg, rowsNames, cors, breaks) {
  const g = svg.append("g");
  const x = d3.scalePoint().domain(ijCohorts).range([cfg.cx0, cfg.cx1]);
  const y = d3.scalePoint().domain(rowsNames).range([cfg.ry0, cfg.ry1]);
  const r = d3.scaleRadial().domain(cfg.rd).range([0, cfg.rmax]);
  g.append("rect").attr("x", cfg.x0).attr("y", 722).attr("width", cfg.x1 - cfg.x0).attr("height", cfg.y1 - 722)
    .attr("fill", "#fff").attr("stroke", "#222").attr("stroke-width", 1.1);
  const ayG = g.append("g").attr("transform", `translate(${cfg.x0},0)`).call(d3.axisLeft(y).tickSize(2.5).tickPadding(2));
  styleAxis(ayG, cfg.fs, "#1a1a1a");
  const axG = g.append("g").attr("transform", `translate(0,${cfg.y1})`).call(d3.axisBottom(x).tickSize(2.5).tickFormat(""));
  styleAxis(axG, 4.5);
  ijCohorts.forEach(c => label(g, x(c) + 1.5, cfg.y1 + 6, c, 4.6, { anchor: "end", rotate: -45, fill: "#333" }));
  g.selectAll(null).data(cors).join("circle")
    .attr("cx", d => x(ijCohorts[d[1]])).attr("cy", d => y(rowsNames[d[0]]))
    .attr("r", d => r(Math.abs(d[2]))).attr("fill", d => d[2] < 0 ? BLUE : RED);
  label(g, cfg.lx, 705, "Pearson Coefficient", 8.3, { weight: "bold" });
  breaks.forEach((b, i) => {
    const cx = cfg.dx + i * cfg.dstep;
    g.append("circle").attr("cx", cx).attr("cy", 698).attr("r", r(b)).attr("fill", "#000");
    label(g, cx + r(b) + 3, 700, b, 5.5);
  });
  [["neg", BLUE], ["pos", RED]].forEach(([t, c], i) => {
    const cx = cfg.dx + i * cfg.cstep;
    g.append("circle").attr("cx", cx).attr("cy", 710).attr("r", 2.2).attr("fill", c);
    label(g, cx + 5, 712, t, 5.5);
  });
}
dotMatrix({ x0: 282, x1: 387, y1: 950, cx0: 291, cx1: 377, ry0: 733, ry1: 939, rd: [0.065, 0.3], rmax: 4.3, fs: 8.5,
  lx: 210, dx: 302, dstep: 25, cstep: 24 }, iRows, iCors, iSizeBreaks);
dotMatrix({ x0: 545, x1: 657, y1: 948, cx0: 553, cx1: 639, ry0: 729, ry1: 943, rd: [0.18, 0.4], rmax: 4.7, fs: 8.2,
  lx: 477, dx: 572, dstep: 23, cstep: 21 }, jRows, jCors, jSizeBreaks);
</script>
</body>
</html>
